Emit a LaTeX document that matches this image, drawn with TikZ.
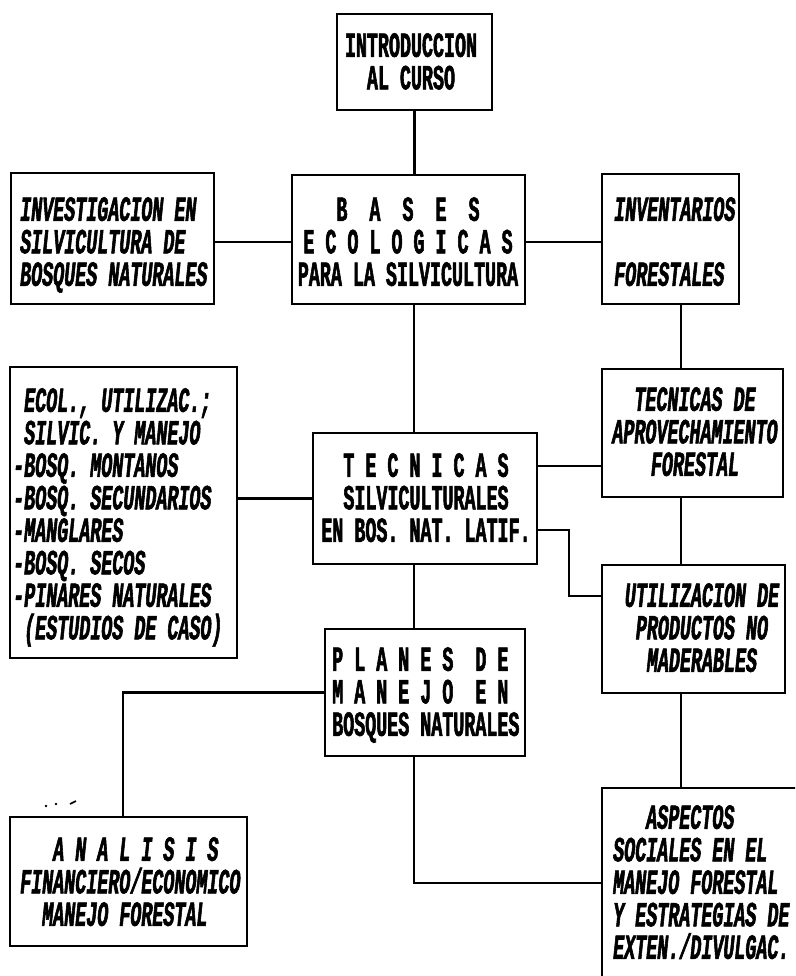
\documentclass[tikz,border=0pt]{standalone}
\usepackage{fontspec}
\newfontfamily\dmfont[FakeStretch=0.52,FakeBold=1.6,WordSpace={1,0,0}]{Liberation Mono}
\usetikzlibrary{calc}
\tikzset{
  blk/.style={draw, rectangle, line width=2.6pt, inner sep=0pt},
  conn/.style={line width=2.4pt},
  up/.style={font=\dmfont\bfseries\fontsize{35.3}{32.5}\selectfont, inner sep=0pt},
  it/.style={font=\dmfont\bfseries\itshape\fontsize{35.3}{32.5}\selectfont, inner sep=0pt},
}
\begin{document}
\begin{tikzpicture}[x=1pt,y=-1pt]
\useasboundingbox (0,0) rectangle (795,976);
\clip (0,0) rectangle (795,976);
% boxes
\node[blk, minimum width=155pt, minimum height=96pt]  (intro)   at (414.5,62) {};
\node[blk, minimum width=233pt, minimum height=129pt] (bases)   at (408.5,239.5) {};
\node[blk, minimum width=203pt, minimum height=131pt] (invest)  at (112.5,238.5) {};
\node[blk, minimum width=137pt, minimum height=130pt] (invent)  at (670.5,239) {};
\node[blk, minimum width=227pt, minimum height=291pt] (ecol)    at (123.5,512.5) {};
\node[blk, minimum width=224pt, minimum height=131pt] (tecn)    at (425,498.5) {};
\node[blk, minimum width=181pt, minimum height=128pt] (tecde)   at (692.5,433) {};
\node[blk, minimum width=183pt, minimum height=128pt] (util)    at (693.5,629) {};
\node[blk, minimum width=200pt, minimum height=127pt] (planes)  at (425,692.5) {};
\node[blk, minimum width=237pt, minimum height=129pt] (analisis) at (128.5,881.5) {};
\node[blk, minimum width=198pt, minimum height=197pt] (aspect)  at (701,886.5) {};
% texts
\node[up, anchor=north, align=center] (intro-t) at (411,33) {INTRODUCCION\\AL CURSO};
\node[up, anchor=north, align=center] (bases-t) at (408,197) {B~~A~~S~~E~~S\\E~C~O~L~O~G~I~C~A~S\\PARA LA SILVICULTURA};
\node[it, anchor=north west, align=left] (invest-t) at (20,197) {INVESTIGACION EN\\SILVICULTURA DE\\BOSQUES NATURALES};
\node[it, anchor=north west, align=left] (invent-t) at (614,197) {INVENTARIOS\\\mbox{}\\FORESTALES};
\node[it, anchor=north west, align=left] (ecol-t) at (13,388) {\hphantom{-}ECOL., UTILIZAC.;\\\hphantom{-}SILVIC. Y MANEJO\\-BOSQ. MONTANOS\\-BOSQ. SECUNDARIOS\\-MANGLARES\\-BOSQ. SECOS\\-PINARES NATURALES\\\hphantom{-}(ESTUDIOS DE CASO)};
\node[up, anchor=north, align=center] (tecn-t) at (426,453) {T~E~C~N~I~C~A~S\\SILVICULTURALES\\EN BOS. NAT. LATIF.};
\node[it, anchor=north, align=center] (tecde-t) at (695,387) {TECNICAS DE\\APROVECHAMIENTO\\FORESTAL};
\node[it, anchor=north, align=center] (util-t) at (702,583) {UTILIZACION DE\\PRODUCTOS NO\\MADERABLES};
\node[up, anchor=north west, align=left] (planes-t) at (332,647) {P~L~A~N~E~S~~D~E\\M~A~N~E~J~O~~E~N\\BOSQUES NATURALES};
\node[it, anchor=north west, align=left] (analisis-t) at (20,837) {\hphantom{AAA}A~N~A~L~I~S~I~S\\FINANCIERO/ECONOMICO\\\hphantom{AA}MANEJO FORESTAL};
\node[it, anchor=north west, align=left] (aspect-t) at (613,805) {\hphantom{AAA}ASPECTOS\\SOCIALES EN EL\\MANEJO FORESTAL\\Y ESTRATEGIAS DE\\EXTEN./DIVULGAC.};
% helper coordinates
\coordinate (cx) at (414,0);
\coordinate (rx) at (681,0);
\coordinate (lx) at (123,0);
\coordinate (ex) at (569,0);
\coordinate (y1) at (0,242);
\coordinate (y2) at (0,466);
\coordinate (y3) at (0,530);
\coordinate (y4) at (0,596);
\coordinate (y5) at (0,883);
% connectors
\draw[conn] (intro.south) -- (intro.south |- bases.north);
\draw[conn] (cx |- bases.south) -- (cx |- tecn.north);
\draw[conn] (cx |- tecn.south) -- (cx |- planes.north);
\draw[conn] (invest.east |- y1) -- (bases.west |- y1);
\draw[conn] (bases.east |- y1) -- (invent.west |- y1);
\draw[conn] (rx |- invent.south) -- (rx |- tecde.north);
\draw[conn] (rx |- tecde.south) -- (rx |- util.north);
\draw[conn] (rx |- util.south) -- (rx |- aspect.north);
\draw[conn] (ecol.east |- tecn.west) -- (tecn.west);
\draw[conn] (tecn.east |- y2) -- (tecde.west |- y2);
\draw[conn] (tecn.east |- y3) -| (ex |- y4) -- (util.west |- y4);
\draw[conn] (planes.west) -| (lx |- analisis.north);
\draw[conn] (cx |- planes.south) |- (aspect.west |- y5);
% stray marks
\fill (46,806) circle (1.3pt);
\fill (56,804) circle (1.3pt);
\draw[line width=1.6pt] (70,804) -- (76,801);
\end{tikzpicture}
\end{document}
